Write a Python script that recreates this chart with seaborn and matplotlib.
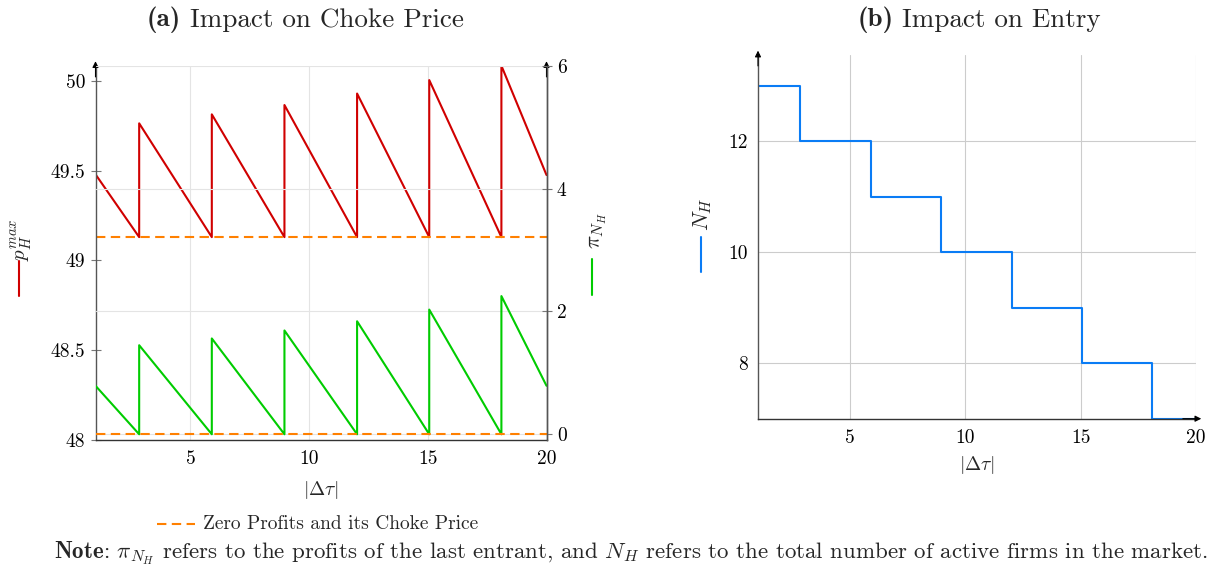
import numpy as np
import pandas as pd
import matplotlib
matplotlib.use("Agg")
import matplotlib.pyplot as plt
from matplotlib.lines import Line2D
import seaborn as sns

# |Δτ| values at which one more firm leaves the market
jump_points = [2.84, 5.90, 8.96, 12.02, 15.06, 18.10]
tau_min, tau_max = 1, 20

# Choke price p_H^max
choke_start = 49.48
choke_peaks = [49.764, 49.814, 49.866, 49.930, 50.005, 50.085]
choke_end = 49.476
zero_profit_choke = 49.13

# Profits of the last entrant π_{N_H}
profit_start = 0.79
profit_peaks = [1.45, 1.56, 1.69, 1.84, 2.03, 2.25]
profit_end = 0.79
zero_profit = 0.0

# Number of active firms N_H
firm_tau = [1, 2.84, 5.90, 8.96, 12.02, 15.06, 18.10, 20]
firm_count = [13, 12, 11, 10, 9, 8, 7, 7]

x_ticks = [5, 10, 15, 20]
price_ticks = [48, 48.5, 49, 49.5, 50]
price_ticklabels = ["48", "48.5", "49", "49.5", "50"]
profit_ticks = [0, 2, 4, 6]
firm_ticks = [8, 10, 12]

RED = "#d00000"
GREEN = "#00cc00"
BLUE = "#0a7cf5"
ORANGE = "#ff8000"
SPINE = "#555555"


def sawtooth(start, peaks, floor, end):
    xs, ys = [tau_min], [start]
    for j, p in zip(jump_points, peaks):
        xs += [j, j]
        ys += [floor, p]
    xs.append(tau_max)
    ys.append(end)
    return pd.DataFrame({"tau": xs, "value": ys})


price_df = sawtooth(choke_start, choke_peaks, zero_profit_choke, choke_end)
profit_df = sawtooth(profit_start, profit_peaks, zero_profit, profit_end)
firms_df = pd.DataFrame({"tau": firm_tau, "firms": firm_count})

sns.set_theme(style="white")
plt.rcParams["font.family"] = ["cmr10", "DejaVu Serif"]
plt.rcParams["mathtext.fontset"] = "cm"
plt.rcParams["axes.formatter.use_mathtext"] = True
plt.rcParams["axes.unicode_minus"] = False

W, H = 1221, 574
fig = plt.figure(figsize=(W / 100, H / 100), dpi=100)


def fx(px):
    return px / W


def fy(py):
    return 1 - py / H


def box(left, top, right, bottom):
    return [fx(left), fy(bottom), fx(right) - fx(left), fy(top) - fy(bottom)]


TICK_FS = 14
TITLE_FS = 19.5


def style_axis(ax):
    ax.tick_params(axis="both", direction="inout", length=7, width=0.8,
                   color="#777777", labelsize=TICK_FS, labelcolor="black", pad=4)
    for s in ax.spines.values():
        s.set_color(SPINE)
        s.set_linewidth(1.0)


def arrow(ax, xy, xytext):
    ax.annotate("", xy=xy, xytext=xytext, xycoords="axes fraction",
                textcoords="axes fraction",
                arrowprops=dict(arrowstyle="-|>", color="black", lw=0.8,
                                mutation_scale=9, shrinkA=0, shrinkB=0),
                annotation_clip=False)


def panel_title(cx, cy, tag, text):
    """Bold tag followed by a roman title, centred on (cx, cy) in pixels."""
    renderer = fig.canvas.get_renderer()
    t1 = fig.text(0, fy(cy), tag, fontfamily="cmb10", fontsize=TITLE_FS,
                  ha="left", va="center")
    t2 = fig.text(0, fy(cy), " " + text, fontsize=TITLE_FS,
                  ha="left", va="center")
    w1 = t1.get_window_extent(renderer).width
    w2 = t2.get_window_extent(renderer).width
    start = cx - (w1 + w2) / 2
    t1.set_x(fx(start))
    t2.set_x(fx(start + w1))


# ---------- (a) choke price and profits ----------
ax = fig.add_axes(box(95.5, 65.7, 546.5, 440))
ax2 = ax.twinx()

sns.lineplot(data=price_df, x="tau", y="value", sort=False, estimator=None,
             color=RED, lw=1.5, ax=ax)
ax.axhline(zero_profit_choke, color=ORANGE, lw=1.5, dashes=(4.5, 2.6))
ax.set_xlim(tau_min, tau_max)
ax.set_ylim(48, 50.085)
ax.set_xticks(x_ticks)
ax.set_xticklabels([str(t) for t in x_ticks])
ax.set_yticks(price_ticks)
ax.set_yticklabels(price_ticklabels)
ax.grid(axis="x", color="#e4e4e4", lw=0.8)
ax.grid(axis="y", visible=False)
ax.set_xlabel("")
ax.set_ylabel("")
style_axis(ax)
ax.spines["top"].set_visible(False)
ax.spines["bottom"].set_color("#333333")

sns.lineplot(data=profit_df, x="tau", y="value", sort=False, estimator=None,
             color=GREEN, lw=1.5, ax=ax2)
ax2.axhline(zero_profit, color=ORANGE, lw=1.5, dashes=(4.5, 2.6))
ax2.set_ylim(-0.093, 6)
ax2.set_yticks(profit_ticks)
ax2.set_yticklabels([str(t) for t in profit_ticks])
ax2.grid(axis="y", color="#e4e4e4", lw=0.8)
ax2.grid(axis="x", visible=False)
ax2.set_axisbelow(True)
ax2.set_ylabel("")
style_axis(ax2)
for side in ["top", "left", "bottom"]:
    ax2.spines[side].set_visible(False)

arrow(ax, (0, 1.012), (0, 0.97))
arrow(ax, (1, 1.012), (1, 0.97))

# ---------- (b) entry ----------
bx = fig.add_axes(box(758, 55, 1196, 418.7))
sns.lineplot(data=firms_df, x="tau", y="firms", drawstyle="steps-post",
             estimator=None, color=BLUE, lw=1.5, ax=bx)
bx.set_xlim(tau_min, tau_max)
bx.set_ylim(7, 13.55)
bx.set_xticks(x_ticks)
bx.set_xticklabels([str(t) for t in x_ticks])
bx.set_yticks(firm_ticks)
bx.set_yticklabels([str(t) for t in firm_ticks])
bx.grid(color="#cccccc", lw=0.8)
bx.set_axisbelow(True)
bx.set_xlabel("")
bx.set_ylabel("")
style_axis(bx)
bx.spines["top"].set_visible(False)
bx.spines["right"].set_visible(False)
bx.spines["bottom"].set_color("#333333")
arrow(bx, (0, 1.012), (0, 0.97))
arrow(bx, (1.012, 0), (0.97, 0))

# ---------- titles, axis labels, legend entries ----------
panel_title(305, 20, "(a)", "Impact on Choke Price")
panel_title(979, 20, "(b)", "Impact on Entry")

fig.text(fx(321), fy(490), r"$|\Delta\tau|$", ha="center", va="center",
         fontsize=TICK_FS)
fig.text(fx(977), fy(465), r"$|\Delta\tau|$", ha="center", va="center",
         fontsize=TICK_FS)

# y-axis legend entries
fig.text(fx(22), fy(240), r"$p_H^{max}$", rotation=90, ha="center",
         va="center", fontsize=15)
fig.add_artist(Line2D([fx(19), fx(19)], [fy(261), fy(296)], color=RED,
                      lw=1.5, transform=fig.transFigure))

fig.text(fx(598), fy(231), r"$\pi_{N_H}$", rotation=90, ha="center",
         va="center", fontsize=16)
fig.add_artist(Line2D([fx(592), fx(592)], [fy(259), fy(295)], color=GREEN,
                      lw=1.5, transform=fig.transFigure))

fig.text(fx(703), fy(214), r"$N_H$", rotation=90, ha="center",
         va="center", fontsize=16)
fig.add_artist(Line2D([fx(701), fx(701)], [fy(237), fy(272)], color=BLUE,
                      lw=1.5, transform=fig.transFigure))

# bottom legend for the zero-profit reference lines
fig.add_artist(Line2D([fx(157), fx(195)], [fy(524), fy(524)], color=ORANGE,
                      lw=1.5, dashes=(4.5, 2.6), transform=fig.transFigure))
fig.text(fx(203), fy(524), "Zero Profits and its Choke Price", ha="left",
         va="center", fontsize=14)

fig.text(fx(631), fy(553),
         r"$\mathbf{Note}$: $\pi_{N_H}$ refers to the profits of the last entrant, "
         r"and $N_H$ refers to the total number of active firms in the market.",
         ha="center", va="center", fontsize=16.5)

fig.savefig("out.png", dpi=100)
